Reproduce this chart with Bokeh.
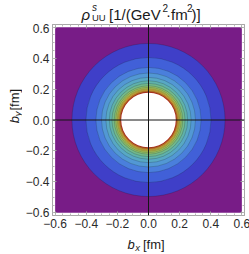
import numpy as np
from bokeh.plotting import figure
from bokeh.models import (Span, FixedTicker, CustomJSTickFormatter,
                          LinearAxis, ColumnDataSource, Range1d)
from bokeh.layouts import column, row
from bokeh.core.properties import value
from bokeh.embed import file_html
from bokeh.resources import INLINE

# ---- data (contour radii in fm, outer -> inner) ----
contour_radii = [0.492, 0.402, 0.338, 0.302, 0.274, 0.252, 0.235, 0.220,
                 0.210, 0.201, 0.195, 0.188, 0.184, 0.180, 0.178]
band_colors = ["#3f3fc8", "#4160d8", "#4a7fdc", "#5298d4", "#58a8c4",
               "#60b2aa", "#72b98c", "#8cbe6c", "#a8c156", "#c4bd48",
               "#d8ac3c", "#e09232", "#e0722a", "#d84a24", "#cc2420"]
hole_radius = 0.1755
background_color = "#781c87"
domain = [-0.6, 0.6]
tick_values = [-0.6, -0.4, -0.2, 0.0, 0.2, 0.4, 0.6]
minor_values = [round(v, 2) for v in np.arange(-0.6, 0.6001, 0.05)]

FONT = "Liberation Sans"
TXT = "#1a1a1a"
pad = 0.017

# ---------------- main plot ----------------
p = figure(width=229, height=213,
           x_range=Range1d(domain[0] - pad, domain[1] + pad),
           y_range=Range1d(domain[0] - pad, domain[1] + pad),
           output_backend="svg", toolbar_location=None,
           min_border_left=27, min_border_right=7,
           min_border_top=1, min_border_bottom=21)
p.grid.visible = False
p.outline_line_color = "#a8a8a8"

fmt = CustomJSTickFormatter(code="return tick.toFixed(1).replace('-', '\\u2212');")
blank = CustomJSTickFormatter(code="return '';")

def style_axis(ax, labels=True):
    ax.ticker = FixedTicker(ticks=tick_values, minor_ticks=minor_values)
    ax.formatter = fmt if labels else blank
    ax.axis_line_color = "#a8a8a8"
    ax.major_tick_in = 4
    ax.major_tick_out = 0
    ax.minor_tick_in = 2
    ax.minor_tick_out = 0
    ax.major_tick_line_color = "#a0a0a0"
    ax.minor_tick_line_color = "#b8b8b8"
    ax.major_label_text_font = FONT
    ax.major_label_text_color = "#2a2a2a"
    if labels:
        ax.major_label_text_font_size = "12px"
        ax.major_label_standoff = 3
    else:
        ax.major_label_text_font_size = "0px"
        ax.major_label_standoff = 0

for ax in p.xaxis + p.yaxis:
    style_axis(ax)
top_ax = LinearAxis()
right_ax = LinearAxis()
style_axis(top_ax, labels=False)
style_axis(right_ax, labels=False)
p.add_layout(top_ax, "above")
p.add_layout(right_ax, "right")

# background (region beyond the outermost contour)
p.quad(left=[domain[0]], right=[domain[1]], bottom=[domain[0]], top=[domain[1]],
       fill_color=background_color, line_color=None)

# contour bands, outer to inner
src = ColumnDataSource(dict(x=[0.0] * len(contour_radii), y=[0.0] * len(contour_radii),
                            r=contour_radii, c=band_colors))
p.circle("x", "y", radius="r", fill_color="c", line_color="#101010",
         line_alpha=0.35, line_width=0.55, source=src)
p.circle(x=[0.0], y=[0.0], radius=hole_radius, fill_color="white", line_color=None)

# axes through the origin
p.add_layout(Span(location=0, dimension="height", line_color="#151515", line_width=1))
p.add_layout(Span(location=0, dimension="width", line_color="#151515", line_width=1))

# ---------------- text panels ----------------
def text_fig(w, h):
    f = figure(width=w, height=h, x_range=Range1d(0, w), y_range=Range1d(0, h),
               min_border=0, output_backend="svg", toolbar_location=None,
               x_axis_location=None, y_axis_location=None)
    f.grid.visible = False
    f.outline_line_color = None
    return f

def put(f, h, txt, x, y_top, size, italic=False, angle=0.0):
    # y_top: anchor position measured from the panel's top edge
    f.text(x=[x], y=[h - y_top], text=[txt], text_font=value(FONT),
           text_font_size=value(size),
           text_font_style=value("italic" if italic else "normal"),
           text_color=TXT, text_align="left", text_baseline="alphabetic",
           angle=angle)

SH = 3.0   # compensation for where the renderer puts the baseline

# title: rho^s_UU [1/(GeV^2 . fm^2)]   (panel: page y 0..23)
TH = 23
title_fig = text_fig(249, TH)
put(title_fig, TH, "\u03c1", 81, 16.7 - SH, "15px", italic=True)
put(title_fig, TH, "s", 91.5, 10 - SH, "10px", italic=True)
put(title_fig, TH, "UU", 91.5, 20.3 - SH, "9.5px")
put(title_fig, TH, "[1/(GeV", 108.5, 16.7 - SH, "15px")
put(title_fig, TH, "2", 162, 10 - SH, "10px")
put(title_fig, TH, "\u00b7fm", 165.5, 16.7 - SH, "15px")
put(title_fig, TH, "2", 186.5, 10 - SH, "10px")
put(title_fig, TH, ")]", 191, 16.7 - SH, "15px")

# y label: b_y [fm], rotated   (panel: page x 0..22, page y 23..236)
YW, YH, Y0 = 22, 213, 23
ylab_fig = text_fig(YW, YH)
ang = np.pi / 2
put(ylab_fig, YH, "b", 17 - SH, 133 - Y0, "13px", italic=True, angle=ang)
put(ylab_fig, YH, "y", 19.5 - SH, 125.3 - Y0, "9.5px", italic=True, angle=ang)
put(ylab_fig, YH, "[fm]", 17 - SH, 119 - Y0, "13px", angle=ang)

# x label: b_x [fm]   (panel: page y 236..253)
XH = 17
xlab_fig = text_fig(249, XH)
put(xlab_fig, XH, "b", 127, 11 - SH, "13px", italic=True)
put(xlab_fig, XH, "x", 134.8, 13.5 - SH, "9.5px", italic=True)
put(xlab_fig, XH, "[fm]", 142.5, 11 - SH, "13px")

layout = column(title_fig, row(ylab_fig, p), xlab_fig)
open("out.html", "w").write(file_html(layout, INLINE))
